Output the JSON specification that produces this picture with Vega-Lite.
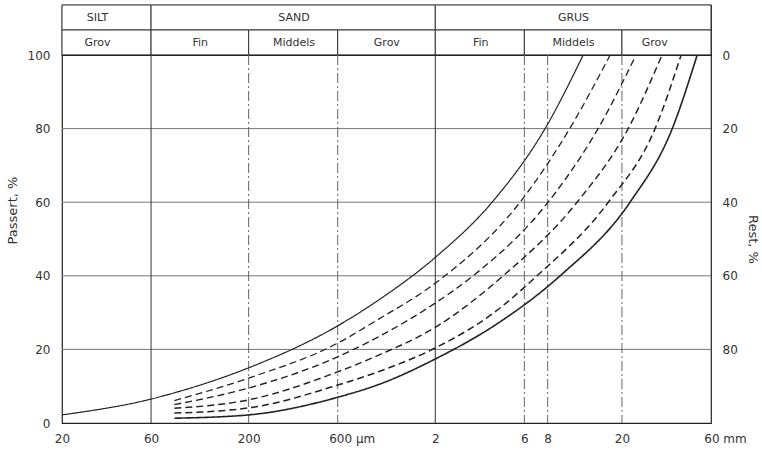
{
  "$schema": "https://vega.github.io/schema/vega-lite/v6.json",
  "padding": {"left": 5, "top": 3, "right": 5, "bottom": 5},
  "background": "white",
  "spacing": 0,
  "bounds": "flush",
  "config": {
    "font": "DejaVu Sans",
    "view": {"stroke": "#222", "strokeWidth": 1.2},
    "axis": {"labelFont": "DejaVu Sans", "labelFontSize": 12, "labelColor": "#333", "titleFont": "DejaVu Sans", "titleFontSize": 13, "titleFontWeight": "normal", "titleColor": "#333"}
  },
  "datasets": {
    "klasser": [
      {"niva": "hoved", "navn": "SILT", "fra": 0.02, "til": 0.06, "midt": 0.031},
      {"niva": "hoved", "navn": "SAND", "fra": 0.06, "til": 2, "midt": 0.35},
      {"niva": "hoved", "navn": "GRUS", "fra": 2, "til": 60, "midt": 11},
      {"niva": "under", "navn": "Grov", "fra": 0.02, "til": 0.06, "midt": 0.031},
      {"niva": "under", "navn": "Fin", "fra": 0.06, "til": 0.2, "midt": 0.11},
      {"niva": "under", "navn": "Middels", "fra": 0.2, "til": 0.6, "midt": 0.35},
      {"niva": "under", "navn": "Grov", "fra": 0.6, "til": 2, "midt": 1.1},
      {"niva": "under", "navn": "Fin", "fra": 2, "til": 6, "midt": 3.5},
      {"niva": "under", "navn": "Middels", "fra": 6, "til": 20, "midt": 11},
      {"niva": "under", "navn": "Grov", "fra": 20, "til": 60, "midt": 30}
    ],
    "kurver": [
      {"kurve": "Øvre grense", "d": 0.02, "p": 2.2},
      {"kurve": "Øvre grense", "d": 0.06, "p": 6.5},
      {"kurve": "Øvre grense", "d": 0.08, "p": 8.2},
      {"kurve": "Øvre grense", "d": 0.2, "p": 15},
      {"kurve": "Øvre grense", "d": 0.6, "p": 26.4},
      {"kurve": "Øvre grense", "d": 1, "p": 33.5},
      {"kurve": "Øvre grense", "d": 2, "p": 45},
      {"kurve": "Øvre grense", "d": 4.03, "p": 60},
      {"kurve": "Øvre grense", "d": 7.75, "p": 80},
      {"kurve": "Øvre grense", "d": 12.4, "p": 100},
      {"kurve": "Kurve 1", "d": 0.08, "p": 6.1},
      {"kurve": "Kurve 1", "d": 0.2, "p": 12.2},
      {"kurve": "Kurve 1", "d": 0.6, "p": 21.7},
      {"kurve": "Kurve 1", "d": 1, "p": 28.3},
      {"kurve": "Kurve 1", "d": 2, "p": 38},
      {"kurve": "Kurve 1", "d": 5.69, "p": 60},
      {"kurve": "Kurve 1", "d": 10.5, "p": 80},
      {"kurve": "Kurve 1", "d": 17.3, "p": 100},
      {"kurve": "Kurve 2", "d": 0.08, "p": 5.0},
      {"kurve": "Kurve 2", "d": 0.2, "p": 9.5},
      {"kurve": "Kurve 2", "d": 0.6, "p": 18},
      {"kurve": "Kurve 2", "d": 1, "p": 23.5},
      {"kurve": "Kurve 2", "d": 2, "p": 32.6},
      {"kurve": "Kurve 2", "d": 3.19, "p": 40},
      {"kurve": "Kurve 2", "d": 8.04, "p": 60},
      {"kurve": "Kurve 2", "d": 14.9, "p": 80},
      {"kurve": "Kurve 2", "d": 23.8, "p": 100},
      {"kurve": "Kurve 3", "d": 0.08, "p": 4.0},
      {"kurve": "Kurve 3", "d": 0.2, "p": 6.3},
      {"kurve": "Kurve 3", "d": 0.6, "p": 13.9},
      {"kurve": "Kurve 3", "d": 1, "p": 18.5},
      {"kurve": "Kurve 3", "d": 2, "p": 26},
      {"kurve": "Kurve 3", "d": 4.62, "p": 40},
      {"kurve": "Kurve 3", "d": 11.5, "p": 60},
      {"kurve": "Kurve 3", "d": 21.6, "p": 80},
      {"kurve": "Kurve 3", "d": 32.8, "p": 100},
      {"kurve": "Kurve 4", "d": 0.08, "p": 2.7},
      {"kurve": "Kurve 4", "d": 0.2, "p": 4.1},
      {"kurve": "Kurve 4", "d": 0.6, "p": 10.3},
      {"kurve": "Kurve 4", "d": 1, "p": 14},
      {"kurve": "Kurve 4", "d": 2, "p": 20.4},
      {"kurve": "Kurve 4", "d": 4, "p": 29.5},
      {"kurve": "Kurve 4", "d": 7.02, "p": 40},
      {"kurve": "Kurve 4", "d": 16.9, "p": 60},
      {"kurve": "Kurve 4", "d": 30.1, "p": 80},
      {"kurve": "Kurve 4", "d": 41.5, "p": 100},
      {"kurve": "Nedre grense", "d": 0.08, "p": 1.3},
      {"kurve": "Nedre grense", "d": 0.2, "p": 2.2},
      {"kurve": "Nedre grense", "d": 0.6, "p": 7},
      {"kurve": "Nedre grense", "d": 1, "p": 10.5},
      {"kurve": "Nedre grense", "d": 2, "p": 17.4},
      {"kurve": "Nedre grense", "d": 4.3, "p": 27},
      {"kurve": "Nedre grense", "d": 9.33, "p": 40},
      {"kurve": "Nedre grense", "d": 22.1, "p": 60},
      {"kurve": "Nedre grense", "d": 37.2, "p": 80},
      {"kurve": "Nedre grense", "d": 50.6, "p": 100}
    ],
    "grenser_hel": [{"d": 0.06}, {"d": 2}],
    "grenser_stipl": [{"d": 0.2}, {"d": 0.6}, {"d": 6}, {"d": 8}, {"d": 20}],
    "rutenett": [{"p": 20}, {"p": 40}, {"p": 60}, {"p": 80}]
  },
  "vconcat": [
    {
      "width": 649,
      "height": 50,
      "data": {"name": "klasser"},
      "layer": [
        {
          "mark": {"type": "rect", "fill": "white", "stroke": "#333", "strokeWidth": 1},
          "encoding": {
            "x": {"field": "fra", "type": "quantitative", "scale": {"type": "log", "domain": [0.02, 60], "nice": false}, "axis": null},
            "x2": {"field": "til"},
            "y": {"field": "niva", "type": "nominal", "scale": {"domain": ["hoved", "under"], "paddingInner": 0, "paddingOuter": 0}, "axis": null}
          }
        },
        {
          "mark": {"type": "text", "fontSize": 11, "color": "#333"},
          "encoding": {
            "x": {"field": "midt", "type": "quantitative", "scale": {"type": "log", "domain": [0.02, 60], "nice": false}, "axis": null},
            "y": {"field": "niva", "type": "nominal", "scale": {"domain": ["hoved", "under"], "paddingInner": 0, "paddingOuter": 0}, "axis": null},
            "text": {"field": "navn"}
          }
        }
      ]
    },
    {
      "width": 649,
      "height": 368,
      "layer": [
        {
          "data": {"name": "rutenett"},
          "mark": {"type": "rule", "color": "#777", "strokeWidth": 1},
          "encoding": {
            "y": {"field": "p", "type": "quantitative", "scale": {"domain": [0, 100], "nice": false},
              "axis": {"orient": "right", "values": [20, 40, 60, 80, 100], "labelExpr": "100 - datum.value", "title": "Rest, %", "ticks": false, "domain": false, "grid": false, "labelPadding": 11, "titlePadding": 8}}
          }
        },
        {
          "data": {"name": "grenser_hel"},
          "mark": {"type": "rule", "color": "#333", "strokeWidth": 1},
          "encoding": {
            "x": {"field": "d", "type": "quantitative", "scale": {"type": "log", "domain": [0.02, 60], "nice": false},
              "axis": {"values": [0.02, 0.06, 0.2, 0.6, 2, 6, 8, 20, 60], "labelExpr": "datum.value < 1 ? format(datum.value * 1000, 'd') + (datum.value == 0.6 ? ' µm' : '') : format(datum.value, 'd') + (datum.value == 60 ? ' mm' : '')", "title": null, "ticks": false, "domain": false, "grid": false, "labelFlush": false, "labelOverlap": false, "labelPadding": 10, "labelOffset": {"condition": {"test": "datum.value == 0.6 || datum.value == 60", "value": 14}, "value": 0}}}
          }
        },
        {
          "data": {"name": "grenser_stipl"},
          "mark": {"type": "rule", "color": "#666", "strokeWidth": 1, "strokeDash": [10, 3, 2, 3]},
          "encoding": {
            "x": {"field": "d", "type": "quantitative", "scale": {"type": "log", "domain": [0.02, 60], "nice": false},
              "axis": {"values": [0.02, 0.06, 0.2, 0.6, 2, 6, 8, 20, 60], "labelExpr": "datum.value < 1 ? format(datum.value * 1000, 'd') + (datum.value == 0.6 ? ' µm' : '') : format(datum.value, 'd') + (datum.value == 60 ? ' mm' : '')", "title": null, "ticks": false, "domain": false, "grid": false, "labelFlush": false, "labelOverlap": false, "labelPadding": 10, "labelOffset": {"condition": {"test": "datum.value == 0.6 || datum.value == 60", "value": 14}, "value": 0}}}
          }
        },
        {
          "data": {"name": "kurver"},
          "mark": {"type": "line", "interpolate": "monotone", "color": "#222"},
          "encoding": {
            "x": {"field": "d", "type": "quantitative", "scale": {"type": "log", "domain": [0.02, 60], "nice": false},
              "axis": {"values": [0.02, 0.06, 0.2, 0.6, 2, 6, 8, 20, 60], "labelExpr": "datum.value < 1 ? format(datum.value * 1000, 'd') + (datum.value == 0.6 ? ' µm' : '') : format(datum.value, 'd') + (datum.value == 60 ? ' mm' : '')", "title": null, "ticks": false, "domain": false, "grid": false, "labelFlush": false, "labelOverlap": false, "labelPadding": 10, "labelOffset": {"condition": {"test": "datum.value == 0.6 || datum.value == 60", "value": 14}, "value": 0}}},
            "y": {"field": "p", "type": "quantitative", "scale": {"domain": [0, 100], "nice": false},
              "axis": {"orient": "left", "values": [0, 20, 40, 60, 80, 100], "title": "Passert, %", "ticks": false, "domain": false, "grid": false, "labelPadding": 12, "titlePadding": 8, "titleY": 155}},
            "strokeDash": {"field": "kurve", "type": "nominal", "scale": {"domain": ["Øvre grense", "Kurve 1", "Kurve 2", "Kurve 3", "Kurve 4", "Nedre grense"], "range": [[1, 0], [7, 4], [7, 4], [7, 4], [7, 4], [1, 0]]}, "legend": null},
            "strokeWidth": {"field": "kurve", "type": "nominal", "scale": {"domain": ["Øvre grense", "Kurve 1", "Kurve 2", "Kurve 3", "Kurve 4", "Nedre grense"], "range": [1.2, 1.6, 1.6, 1.6, 1.6, 1.2]}, "legend": null}
          }
        }
      ],
      "resolve": {"axis": {"y": "independent"}}
    }
  ]
}
